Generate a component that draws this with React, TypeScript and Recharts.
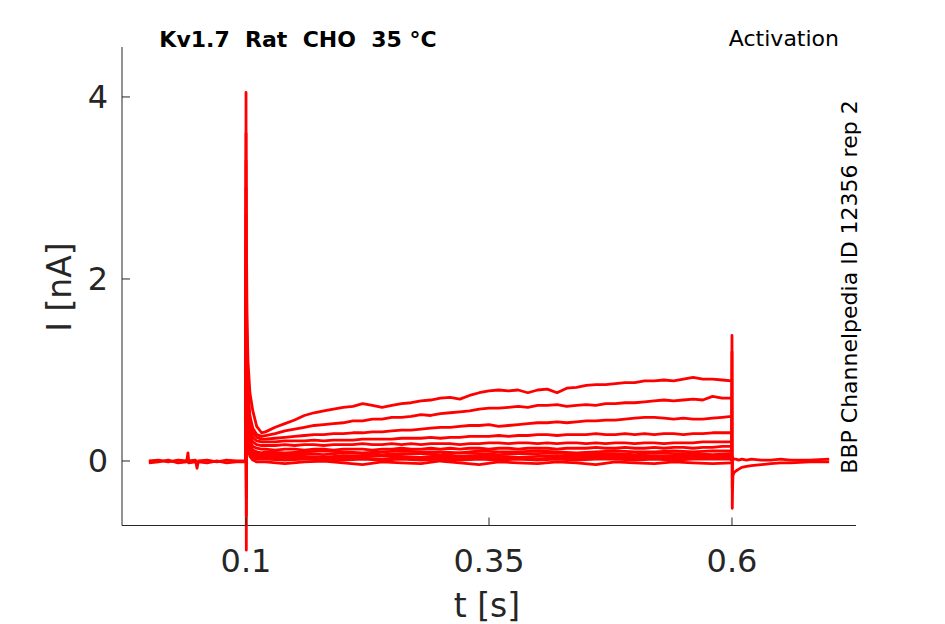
import React from 'react';
import { LineChart, Line, XAxis, YAxis, ReferenceLine } from 'recharts';

// Kv1.7 activation traces, current in nA vs time in s

const xTicks = [0.1, 0.35, 0.6];
const yTicks = [0, 2, 4];

// holding level before the step
const preTimes = [0, 0.01, 0.02, 0.03, 0.039, 0.0403, 0.041, 0.048, 0.0496, 0.051, 0.06, 0.07, 0.08, 0.09, 0.0998];
const preA = [0, 0.01, -0.01, 0.01, 0, 0.09, 0, 0.01, -0.08, 0, 0.01, -0.01, 0.01, 0, 0];
const preB = [-0.02, -0.01, 0.01, -0.02, -0.01, -0.01, -0.02, -0.01, -0.02, -0.01, -0.02, 0, -0.02, -0.01, -0.01];

// step period, larger traces
const fineTimes = [
  0.0998, 0.1, 0.1003, 0.1006, 0.101, 0.102, 0.104, 0.107, 0.111, 0.116,
  0.12, 0.13, 0.14, 0.15, 0.16, 0.17, 0.18, 0.19, 0.2, 0.21,
  0.22, 0.23, 0.24, 0.25, 0.26, 0.27, 0.28, 0.29, 0.3, 0.31,
  0.32, 0.33, 0.34, 0.35, 0.36, 0.37, 0.38, 0.39, 0.4, 0.41,
  0.42, 0.43, 0.44, 0.45, 0.46, 0.47, 0.48, 0.49, 0.5, 0.51,
  0.52, 0.53, 0.54, 0.55, 0.56, 0.57, 0.58, 0.59, 0.5995,
];
const trace1 = [
  0, 4.05, -0.98, 2.2, 1.6, 1.1, 0.75, 0.55, 0.38, 0.31,
  0.32, 0.37, 0.41, 0.45, 0.5, 0.53, 0.55, 0.57, 0.59, 0.6,
  0.63, 0.61, 0.59, 0.61, 0.63, 0.64, 0.66, 0.67, 0.69, 0.7,
  0.68, 0.72, 0.75, 0.77, 0.78, 0.77, 0.78, 0.75, 0.78, 0.79,
  0.75, 0.8, 0.81, 0.83, 0.84, 0.84, 0.85, 0.86, 0.86, 0.88,
  0.88, 0.89, 0.88, 0.9, 0.92, 0.9, 0.9, 0.89, 0.88,
];
const trace2 = [
  0, 3.6, -0.6, 1.8, 1.2, 0.8, 0.5, 0.36, 0.29, 0.27,
  0.28, 0.3, 0.33, 0.35, 0.37, 0.39, 0.4, 0.41, 0.42, 0.44,
  0.44, 0.46, 0.46, 0.48, 0.48, 0.49, 0.51, 0.5, 0.52, 0.53,
  0.54, 0.55, 0.57, 0.58, 0.58, 0.59, 0.6, 0.59, 0.61, 0.61,
  0.62, 0.6, 0.61, 0.62, 0.61, 0.63, 0.63, 0.64, 0.64, 0.65,
  0.66, 0.67, 0.66, 0.67, 0.68, 0.67, 0.71, 0.69, 0.69,
];
const trace3 = [
  0, 3.3, -0.4, 1.5, 1.0, 0.65, 0.42, 0.31, 0.26, 0.24,
  0.24, 0.25, 0.26, 0.27, 0.28, 0.29, 0.29, 0.3, 0.3, 0.31,
  0.31, 0.32, 0.32, 0.33, 0.34, 0.34, 0.35, 0.36, 0.37, 0.37,
  0.38, 0.39, 0.39, 0.4, 0.38, 0.39, 0.4, 0.41, 0.42, 0.42,
  0.43, 0.42, 0.43, 0.44, 0.44, 0.45, 0.45, 0.46, 0.47, 0.48,
  0.48, 0.47, 0.46, 0.47, 0.46, 0.46, 0.47, 0.48, 0.49,
];
const trace4 = [
  0, 3.0, -0.3, 1.3, 0.9, 0.55, 0.35, 0.26, 0.22, 0.21,
  0.21, 0.21, 0.22, 0.22, 0.22, 0.23, 0.22, 0.23, 0.23, 0.23,
  0.24, 0.24, 0.24, 0.24, 0.25, 0.25, 0.25, 0.26, 0.25, 0.26,
  0.26, 0.27, 0.27, 0.27, 0.28, 0.27, 0.28, 0.28, 0.29, 0.29,
  0.28, 0.29, 0.29, 0.29, 0.3, 0.29, 0.29, 0.3, 0.29, 0.3,
  0.29, 0.3, 0.3, 0.29, 0.3, 0.3, 0.31, 0.31, 0.31,
];
const trace5 = [
  0, 2.7, -0.2, 1.1, 0.75, 0.45, 0.28, 0.21, 0.18, 0.17,
  0.17, 0.17, 0.18, 0.17, 0.18, 0.18, 0.17, 0.18, 0.18, 0.18,
  0.19, 0.18, 0.18, 0.19, 0.18, 0.19, 0.18, 0.19, 0.19, 0.19,
  0.18, 0.19, 0.19, 0.2, 0.2, 0.19, 0.2, 0.2, 0.19, 0.2,
  0.19, 0.2, 0.2, 0.19, 0.2, 0.19, 0.2, 0.2, 0.19, 0.2,
  0.2, 0.19, 0.2, 0.2, 0.2, 0.21, 0.21, 0.21, 0.21,
];
const trace6 = [
  0, 2.4, -0.1, 0.9, 0.6, 0.38, 0.22, 0.16, 0.14, 0.13,
  0.13, 0.12, 0.13, 0.13, 0.12, 0.13, 0.13, 0.12, 0.13, 0.13,
  0.13, 0.12, 0.13, 0.13, 0.14, 0.13, 0.13, 0.14, 0.13, 0.14,
  0.13, 0.14, 0.14, 0.13, 0.14, 0.14, 0.13, 0.14, 0.14, 0.14,
  0.13, 0.14, 0.14, 0.14, 0.15, 0.14, 0.14, 0.15, 0.14, 0.14,
  0.15, 0.14, 0.15, 0.15, 0.14, 0.15, 0.15, 0.16, 0.16,
];

// step period, traces close to zero
const coarseTimes = [
  0.0998, 0.1, 0.1003, 0.1006, 0.101, 0.102, 0.104, 0.107, 0.111, 0.116,
  0.12, 0.14, 0.16, 0.18, 0.2, 0.22, 0.24, 0.26, 0.28, 0.3, 0.32, 0.34,
  0.36, 0.38, 0.4, 0.42, 0.44, 0.46, 0.48, 0.5, 0.52, 0.54, 0.56, 0.58, 0.5995,
];
const trace7 = [
  0, 2.0, 0, 0.8, 0.5, 0.3, 0.18, 0.12, 0.1, 0.09,
  0.1, 0.09, 0.1, 0.11, 0.1, 0.09, 0.1, 0.11, 0.1, 0.1, 0.09, 0.11,
  0.1, 0.1, 0.11, 0.1, 0.09, 0.1, 0.11, 0.1, 0.1, 0.11, 0.1, 0.11, 0.11,
];
const trace8 = [
  0, 1.85, 0, 0.75, 0.45, 0.26, 0.15, 0.09, 0.08, 0.07,
  0.08, 0.07, 0.08, 0.07, 0.09, 0.08, 0.07, 0.08, 0.08, 0.07, 0.09, 0.08,
  0.07, 0.08, 0.08, 0.09, 0.07, 0.08, 0.08, 0.07, 0.09, 0.08, 0.08, 0.07, 0.08,
];
const trace9 = [
  0, 1.7, 0, 0.7, 0.4, 0.22, 0.12, 0.07, 0.05, 0.05,
  0.05, 0.06, 0.05, 0.04, 0.06, 0.05, 0.06, 0.05, 0.04, 0.06, 0.05, 0.06,
  0.05, 0.04, 0.05, 0.06, 0.05, 0.06, 0.05, 0.05, 0.06, 0.05, 0.06, 0.05, 0.06,
];
const trace10 = [
  0, 1.55, 0, 0.65, 0.38, 0.2, 0.1, 0.05, 0.04, 0.03,
  0.03, 0.04, 0.03, 0.03, 0.04, 0.03, 0.02, 0.04, 0.03, 0.04, 0.03, 0.03,
  0.04, 0.03, 0.02, 0.04, 0.03, 0.03, 0.04, 0.03, 0.03, 0.04, 0.03, 0.04, 0.04,
];
const trace11 = [
  0, 1.4, 0, 0.6, 0.35, 0.18, 0.08, 0.04, 0.02, 0.02,
  0.02, 0.01, 0.02, 0.02, 0.01, 0.02, 0.01, 0.02, 0.01, 0.02, 0.01, 0.02,
  0.01, 0.02, 0.01, 0.02, 0.01, 0.02, 0.02, 0.01, 0.02, 0.01, 0.02, 0.02, 0.02,
];
const trace12 = [
  0, 1.1, 0, 0.5, 0.3, 0.14, 0.05, 0.01, -0.01, -0.01,
  -0.01, -0.03, -0.01, 0, -0.02, -0.04, -0.01, -0.02, -0.03, 0, -0.02, -0.04,
  -0.01, -0.02, -0.03, -0.01, -0.02, -0.04, -0.01, -0.02, -0.03, -0.01, -0.02, -0.03, -0.02,
];

// after the step (tail currents)
const tailTimes = [0.5995, 0.6, 0.6003, 0.6006, 0.601, 0.602, 0.604, 0.607, 0.61, 0.615, 0.62, 0.63, 0.64, 0.65, 0.66, 0.68, 0.7];
const tailLow = [0, 1.38, -0.52, -0.3, -0.16, -0.13, -0.11, -0.09, -0.07, -0.06, -0.05, -0.04, -0.03, -0.02, -0.02, -0.01, -0.01];
const tailHigh = [0, 1.2, -0.3, 0.05, 0.03, 0.02, 0.02, 0.01, 0.02, 0.01, 0.02, 0.01, 0.01, 0.02, 0.01, 0.01, 0.02];

const toPoints = (ts: number[], vs: number[]) => ts.map((t, i) => ({ t, v: vs[i] }));

const series = [
  toPoints(preTimes, preA),
  toPoints(preTimes, preB),
  toPoints(coarseTimes, trace12),
  toPoints(coarseTimes, trace11),
  toPoints(coarseTimes, trace10),
  toPoints(coarseTimes, trace9),
  toPoints(coarseTimes, trace8),
  toPoints(coarseTimes, trace7),
  toPoints(fineTimes, trace6),
  toPoints(fineTimes, trace5),
  toPoints(fineTimes, trace4),
  toPoints(fineTimes, trace3),
  toPoints(fineTimes, trace2),
  toPoints(fineTimes, trace1),
  toPoints(tailTimes, tailLow),
  toPoints(tailTimes, tailHigh),
];

const X_MIN = -0.0276;
const X_MAX = 0.7276;
const Y_AXIS_BOTTOM = -0.709;
const Y_MIN = -1.088;
const Y_MAX = 4.549;

const FONT = '"DejaVu Sans", sans-serif';
const AXIS_COLOR = '#262626';
const RED = '#ff0000';

// x axis is drawn 34.5px above the plot bottom (the trace spike runs past it)
const renderXTick = ({ x, y, payload }: any) => {
  const axisY = y - 34.5;
  return (
    <g key={`xt-${payload.value}`}>
      <line x1={x} x2={x} y1={axisY} y2={axisY - 8} stroke={AXIS_COLOR} strokeWidth={1} />
      <text x={x} y={axisY + 46.5} textAnchor="middle" fontSize={32} fontFamily={FONT} fill={AXIS_COLOR}>
        {payload.value}
      </text>
    </g>
  );
};

const renderYTick = ({ x, y, payload }: any) => (
  <g key={`yt-${payload.value}`}>
    <line x1={x} x2={x + 8} y1={y} y2={y} stroke={AXIS_COLOR} strokeWidth={1} />
    <text x={x - 14} y={y + 11.5} textAnchor="end" fontSize={32} fontFamily={FONT} fill={AXIS_COLOR}>
      {payload.value}
    </text>
  </g>
);

export default function App() {
  return (
    <div style={{ position: 'absolute', left: 0, top: 0, width: 945, height: 624, background: '#fff' }}>
      <LineChart width={945} height={624} margin={{ top: 47, right: 89, bottom: 63, left: 121 }}>
        <XAxis
          type="number"
          dataKey="t"
          domain={[X_MIN, X_MAX]}
          ticks={xTicks}
          interval={0}
          height={1}
          axisLine={false}
          tickLine={false}
          tickSize={0}
          tickMargin={0}
          tick={renderXTick}
        />
        <YAxis
          type="number"
          dataKey="v"
          domain={[Y_MIN, Y_MAX]}
          ticks={yTicks}
          interval={0}
          width={1}
          axisLine={false}
          tickLine={false}
          tickSize={0}
          tickMargin={0}
          tick={renderYTick}
        />
        <ReferenceLine
          segment={[{ x: X_MIN, y: Y_AXIS_BOTTOM }, { x: X_MAX, y: Y_AXIS_BOTTOM }]}
          stroke={AXIS_COLOR}
          strokeWidth={1}
          ifOverflow="visible"
        />
        <ReferenceLine
          segment={[{ x: X_MIN, y: Y_AXIS_BOTTOM }, { x: X_MIN, y: Y_MAX }]}
          stroke={AXIS_COLOR}
          strokeWidth={1}
          ifOverflow="visible"
        />
        {series.map((data, i) => (
          <Line
            key={i}
            data={data}
            dataKey="v"
            type="linear"
            stroke={RED}
            strokeWidth={2.8}
            strokeLinejoin="round"
            dot={false}
            activeDot={false}
            isAnimationActive={false}
          />
        ))}
      </LineChart>
      <svg
        width={945}
        height={624}
        style={{ position: 'absolute', left: 0, top: 0, pointerEvents: 'none' }}
        fontFamily={FONT}
      >
        <text x={298} y={47} textAnchor="middle" fontSize={22} fontWeight="bold" fill="#000" style={{ whiteSpace: 'pre' }}>
          {'Kv1.7  Rat  CHO  35 °C'}
        </text>
        <text x={839} y={46} textAnchor="end" fontSize={22} fill="#000">
          Activation
        </text>
        <text x={857} y={287} textAnchor="middle" fontSize={22} fill="#000" transform="rotate(-90 857 287)">
          BBP Channelpedia ID 12356 rep 2
        </text>
        <text x={71} y={287} textAnchor="middle" fontSize={33} fill={AXIS_COLOR} transform="rotate(-90 71 287)">
          I [nA]
        </text>
        <text x={487} y={617} textAnchor="middle" fontSize={33} fill={AXIS_COLOR}>
          t [s]
        </text>
      </svg>
    </div>
  );
}
